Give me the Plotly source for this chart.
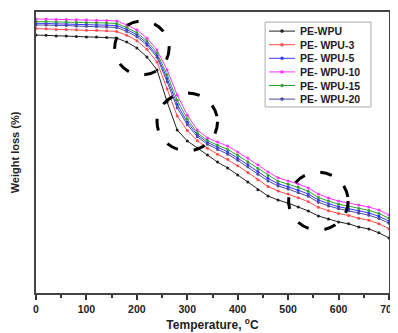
import plotly.graph_objects as go

temperature = list(range(0, 701, 20))

pe_wpu = [91.8, 91.7, 91.5, 91.5, 91.3, 91.1, 91.1, 90.9, 90.7, 89.3, 87.2, 84.0, 79.4, 68.0, 58.0, 54.1,
          51.6, 49.1, 46.6, 44.5, 42.0, 39.5, 36.7, 34.5, 33.1, 32.0, 30.6, 29.2, 27.4, 26.3, 25.3, 24.6,
          23.5, 22.8, 21.4, 19.6]
pe_wpu_3 = [94.1, 94.0, 93.8, 93.8, 93.7, 93.5, 93.5, 93.3, 93.1, 91.7, 89.8, 86.7, 82.2, 72.6, 63.0, 57.8,
            54.2, 51.5, 49.4, 47.6, 45.3, 42.9, 40.3, 37.9, 36.3, 35.2, 33.9, 32.5, 30.5, 29.3, 28.3, 27.6,
            26.6, 25.9, 24.6, 22.9]
pe_wpu_5 = [96.0, 95.9, 95.7, 95.7, 95.6, 95.6, 95.4, 95.4, 95.2, 93.8, 91.9, 88.9, 84.6, 76.3, 67.1, 60.8,
            56.3, 53.6, 51.8, 50.2, 48.0, 45.7, 43.2, 40.8, 38.9, 37.8, 36.6, 35.2, 33.1, 31.8, 30.7, 30.0,
            29.2, 28.5, 27.3, 25.6]
pe_wpu_10 = [97.5, 97.5, 97.3, 97.3, 97.2, 97.2, 97.0, 97.0, 96.8, 95.4, 93.6, 90.7, 86.5, 79.4, 70.5, 63.3,
             58.0, 55.2, 53.7, 52.3, 50.2, 48.0, 45.6, 43.1, 41.0, 39.9, 38.8, 37.4, 35.2, 33.8, 32.7, 32.0,
             31.3, 30.6, 29.5, 27.8]
pe_wpu_15 = [96.6, 96.6, 96.4, 96.4, 96.3, 96.3, 96.1, 96.1, 95.9, 94.5, 92.6, 89.7, 85.4, 77.7, 68.6, 61.9,
             57.0, 54.3, 52.6, 51.1, 49.0, 46.7, 44.3, 41.8, 39.8, 38.7, 37.6, 36.2, 34.0, 32.7, 31.6, 30.9,
             30.1, 29.4, 28.3, 26.6]
pe_wpu_20 = [95.4, 95.4, 95.2, 95.2, 95.0, 94.9, 94.8, 94.7, 94.5, 93.1, 91.2, 88.2, 83.9, 75.2, 65.9, 59.9,
             55.6, 52.9, 51.1, 49.4, 47.2, 44.9, 42.3, 39.9, 38.1, 37.0, 35.8, 34.4, 32.3, 31.0, 30.0, 29.3,
             28.4, 27.7, 26.5, 24.8]

series_names = ["PE-WPU", "PE- WPU-3", "PE- WPU-5", "PE- WPU-10", "PE- WPU-15", "PE- WPU-20"]
series_values = [pe_wpu, pe_wpu_3, pe_wpu_5, pe_wpu_10, pe_wpu_15, pe_wpu_20]
series_colors = ["#222222", "#ff4d4d", "#3a3aff", "#ff33ff", "#33a033", "#4a4aa8"]

# highlighted regions (centre temperature, centre value, half-width, half-height)
regions = [(210, 87.2, 54, 9.6), (300, 60.9, 60, 10.3), (560, 32.7, 59, 10.3)]

x_tick_vals = [0, 100, 200, 300, 400, 500, 600, 700]

font_family = "Liberation Sans, Arial, sans-serif"

fig = go.Figure()
for name, vals, col in zip(series_names, series_values, series_colors):
    fig.add_trace(go.Scatter(
        x=temperature, y=vals, name=name, mode="lines+markers",
        line=dict(color=col, width=1), marker=dict(color=col, size=3)))

for cx, cy, rx, ry in regions:
    fig.add_shape(type="circle", xref="x", yref="y",
                  x0=cx - rx, x1=cx + rx, y0=cy - ry, y1=cy + ry,
                  line=dict(color="black", width=3, dash="12px,16px"))

# compact legend box drawn in paper coordinates
leg_x0, leg_x1, leg_y0, leg_y1 = 0.649, 0.949, 0.662, 0.964
fig.add_shape(type="rect", xref="paper", yref="paper", x0=leg_x0, x1=leg_x1, y0=leg_y0, y1=leg_y1,
              line=dict(color="#aaaaaa", width=1), fillcolor="white", layer="above")
row_top, row_step = 0.932, 0.0484
for i, (name, col) in enumerate(zip(series_names, series_colors)):
    yy = row_top - i * row_step
    fig.add_shape(type="line", xref="paper", yref="paper", x0=0.660, x1=0.734, y0=yy, y1=yy,
                  line=dict(color=col, width=1), layer="above")
    fig.add_shape(type="circle", xref="paper", yref="paper", xsizemode="pixel", ysizemode="pixel",
                  xanchor=0.697, yanchor=yy, x0=-1.5, x1=1.5, y0=-1.5, y1=1.5,
                  line=dict(color=col, width=0.5), fillcolor=col, layer="above")
    fig.add_annotation(xref="paper", yref="paper", x=0.743, y=yy, text=name, showarrow=False,
                       xanchor="left", yanchor="middle",
                       font=dict(size=10.5, family=font_family, color="#222222", weight="bold"))

fig.update_layout(
    width=390, height=325,
    margin=dict(l=28, r=9, t=4, b=40),
    paper_bgcolor="white", plot_bgcolor="white",
    font=dict(family=font_family, color="#222222"),
    showlegend=False,
    xaxis=dict(range=[0, 700], tickvals=x_tick_vals, ticks="outside", ticklen=5, tickwidth=1.5,
               tickcolor="#333333", showline=True, linecolor="#444444", linewidth=2, mirror=True,
               showgrid=False, zeroline=False, automargin=False,
               tickfont=dict(size=10.5, weight="bold"),
               minor=dict(dtick=50, ticks="outside", ticklen=3, tickcolor="#333333", showgrid=False),
               title=dict(text="Temperature, <sup>o</sup>C", font=dict(size=12, weight="bold"), standoff=7)),
    yaxis=dict(range=[0, 100], showticklabels=False, ticks="", showline=True, linecolor="#444444",
               linewidth=2, mirror=True, showgrid=False, zeroline=False, automargin=False,
               title=dict(text="Weight loss (%)", font=dict(size=11, weight="bold"), standoff=12)),
)

fig.write_html("out.html")
